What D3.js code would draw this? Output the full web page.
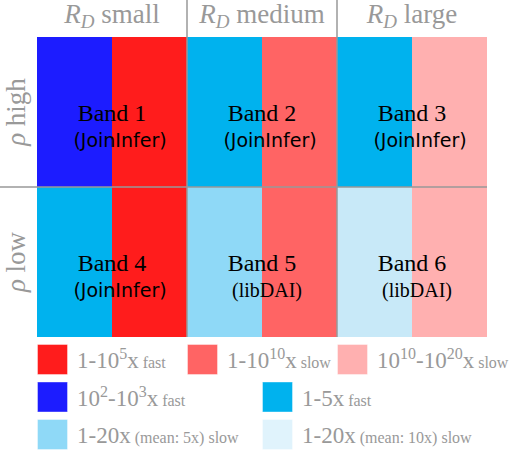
<!DOCTYPE html>
<html>
<head>
<meta charset="utf-8">
<script src="https://cdn.jsdelivr.net/npm/d3@7"></script>
<style>
  body { margin: 0; background: #fff; }
  svg { display: block; }
</style>
</head>
<body>
<svg id="chart"></svg>
<script>
// grid of bands: R_D columns x rho rows, each cell split in two halves
let columns = ['small', 'medium', 'large'];
let rows = ['high', 'low'];
let halves = ['left', 'right'];

// colour keys
let colorKeys = ['fast5', 'slow10', 'slow20', 'fast23', 'fast15', 'slowA', 'slowB'];
let cellColors = ['#ff1c1c', '#ff6464', '#ffb0b0', '#1c1cff', '#00b2ee', '#8fd9f7', '#c8e9f8'];
let swatchColors = ['#ff1c1c', '#ff6464', '#ffb0b0', '#1c1cff', '#00b2ee', '#8fd9f7', '#e0f3fc'];

// one row per band
let bandNames = ['Band 1', 'Band 2', 'Band 3', 'Band 4', 'Band 5', 'Band 6'];
let bandCol = ['small', 'medium', 'large', 'small', 'medium', 'large'];
let bandRow = ['high', 'high', 'high', 'low', 'low', 'low'];
let bandLeft = ['fast23', 'fast15', 'fast15', 'fast15', 'slowA', 'slowB'];
let bandRight = ['fast5', 'slow10', 'slow20', 'fast5', 'slow10', 'slow20'];
let bandTool = ['(JoinInfer)', '(JoinInfer)', '(JoinInfer)', '(JoinInfer)', '(libDAI)', '(libDAI)'];

// legend label pieces: [text, kind]  kind: n normal, s small, p superscript
let legendLabels = [
  [['1-10', 'n'], ['5', 'p'], ['x', 'n'], [' fast', 's']],
  [['1-10', 'n'], ['10', 'p'], ['x', 'n'], [' slow', 's']],
  [['10', 'n'], ['10', 'p'], ['-10', 'n'], ['20', 'p'], ['x', 'n'], [' slow', 's']],
  [['10', 'n'], ['2', 'p'], ['-10', 'n'], ['3', 'p'], ['x', 'n'], [' fast', 's']],
  [['1-5x', 'n'], [' fast', 's']],
  [['1-20x', 'n'], [' (mean: 5x) slow', 's']],
  [['1-20x', 'n'], [' (mean: 10x) slow', 's']]
];
let legendRow = [0, 0, 0, 1, 1, 2, 2];
let legendSlot = [0, 2, 4, 0, 3, 0, 3];

let width = 514, height = 450;
let gray = '#999';
let serif = '"Liberation Serif", "Times New Roman", serif';
let sans = '"DejaVu Sans", sans-serif';

let svg = d3.select('#chart')
  .attr('width', width)
  .attr('height', height);

let xScale = d3.scaleBand().domain(columns).range([37, 487]);
let halfScale = d3.scaleBand().domain(halves).range([0, xScale.bandwidth()]);
let yScale = d3.scaleBand().domain(rows).range([37, 337]);
let color = d3.scaleOrdinal().domain(colorKeys).range(cellColors);
let swatch = d3.scaleOrdinal().domain(colorKeys).range(swatchColors);

let bands = bandNames.map((name, i) => ({
  name: name, col: bandCol[i], row: bandRow[i],
  left: bandLeft[i], right: bandRight[i], tool: bandTool[i]
}));

// half cells
let halfCells = [];
bands.forEach(b => {
  halfCells.push({ col: b.col, row: b.row, half: 'left', key: b.left });
  halfCells.push({ col: b.col, row: b.row, half: 'right', key: b.right });
});

svg.append('g').selectAll('rect')
  .data(halfCells)
  .enter()
  .append('rect')
  .attr('x', d => xScale(d.col) + halfScale(d.half))
  .attr('y', d => yScale(d.row))
  .attr('width', halfScale.bandwidth())
  .attr('height', yScale.bandwidth())
  .attr('fill', d => color(d.key));

// separator lines
svg.append('g').selectAll('line')
  .data(columns.slice(1))
  .enter()
  .append('line')
  .attr('x1', d => xScale(d)).attr('x2', d => xScale(d))
  .attr('y1', 0).attr('y2', yScale.range()[1])
  .attr('stroke', gray).attr('stroke-width', 1.5);

svg.append('g').selectAll('line')
  .data(rows.slice(1))
  .enter()
  .append('line')
  .attr('x1', 0).attr('x2', xScale.range()[1])
  .attr('y1', d => yScale(d)).attr('y2', d => yScale(d))
  .attr('stroke', gray).attr('stroke-width', 1.5);

// band labels
let labels = svg.append('g').selectAll('g')
  .data(bands)
  .enter()
  .append('g')
  .attr('transform', d => `translate(${xScale(d.col) + xScale.bandwidth() / 2}, ${yScale(d.row)})`);

labels.append('text')
  .attr('x', 0).attr('y', 84)
  .attr('text-anchor', 'middle')
  .style('font-family', serif)
  .style('font-size', '24px')
  .attr('fill', '#000')
  .text(d => d.name);

labels.append('text')
  .attr('x', d => d.tool === '(libDAI)' ? 5 : 8)
  .attr('y', 110)
  .attr('text-anchor', 'middle')
  .style('font-family', d => d.tool === '(libDAI)' ? serif : sans)
  .style('font-size', d => d.tool === '(libDAI)' ? '20px' : '19px')
  .attr('fill', '#000')
  .text(d => d.tool);

// column headers
let heads = svg.append('g').selectAll('text')
  .data(columns)
  .enter()
  .append('text')
  .attr('x', d => xScale(d) + xScale.bandwidth() / 2)
  .attr('y', 23)
  .attr('text-anchor', 'middle')
  .style('font-family', serif)
  .style('font-size', '27px')
  .attr('fill', gray);
heads.append('tspan').style('font-style', 'italic').text('R');
heads.append('tspan').style('font-style', 'italic').style('font-size', '19px')
  .attr('dy', 5).text('D');
heads.append('tspan').attr('dy', -5).text(d => ' ' + d);

// row headers
let rowHeads = svg.append('g').selectAll('text')
  .data(rows)
  .enter()
  .append('text')
  .attr('transform', d => `translate(25, ${yScale(d) + yScale.bandwidth() / 2}) rotate(-90)`)
  .attr('text-anchor', 'middle')
  .style('font-family', serif)
  .style('font-size', '27px')
  .attr('fill', gray);
rowHeads.append('tspan').style('font-style', 'italic').text('\u03c1');
rowHeads.append('tspan').text(d => ' ' + d);

// legend
let slotX = d3.scaleLinear().domain([0, 1]).range([37, 112]);
let rowY = d3.scaleLinear().domain([0, 1]).range([344, 381.5]);

let legendItems = colorKeys.map((k, i) => ({
  key: k, parts: legendLabels[i], row: legendRow[i], slot: legendSlot[i]
}));

let leg = svg.append('g').selectAll('g')
  .data(legendItems)
  .enter()
  .append('g')
  .attr('transform', d => `translate(${slotX(d.slot)}, ${rowY(d.row)})`);

leg.append('rect')
  .attr('x', 0.5).attr('y', 0.5)
  .attr('width', 30).attr('height', 30)
  .attr('fill', d => swatch(d.key))
  .attr('stroke', '#fff').attr('stroke-opacity', 0.4);

let legText = leg.append('text')
  .attr('x', 40).attr('y', 24)
  .style('font-family', serif)
  .style('font-size', '23px')
  .attr('fill', gray);

legText.each(function(d) {
  let t = d3.select(this);
  let raised = false;
  d.parts.forEach(p => {
    let ts = t.append('tspan').text(p[0]);
    if (p[1] === 'p') {
      ts.style('font-size', '16px').attr('dy', raised ? 0 : -9);
      raised = true;
    } else {
      if (raised) { ts.attr('dy', 9); raised = false; }
      if (p[1] === 's') ts.style('font-size', '16px');
    }
  });
});
</script>
</body>
</html>
